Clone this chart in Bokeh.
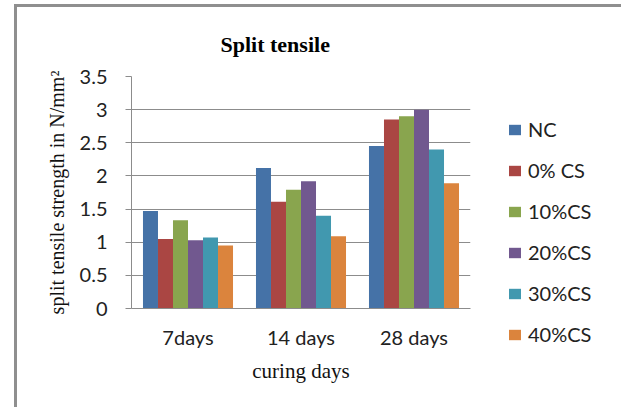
from bokeh.plotting import figure
from bokeh.models import FactorRange, Range1d, FixedTicker, Legend, LegendItem, ColumnDataSource
from bokeh.transform import dodge
from bokeh.embed import file_html
from bokeh.resources import INLINE

groups = ["7days", "14 days", "28 days"]
series = ["NC", "0% CS", "10%CS", "20%CS", "30%CS", "40%CS"]
NC = [1.47, 2.12, 2.45]
CS0 = [1.05, 1.61, 2.85]
CS10 = [1.33, 1.79, 2.90]
CS20 = [1.03, 1.92, 3.00]
CS30 = [1.07, 1.40, 2.40]
CS40 = [0.95, 1.09, 1.89]
y_ticks = [0, 0.5, 1, 1.5, 2, 2.5, 3, 3.5]
y_tick_labels = ["0", "0.5", "1", "1.5", "2", "2.5", "3", "3.5"]
colors = ["#4572A7", "#AA4643", "#89A54E", "#71588F", "#4198AF", "#DB843D"]

values = [NC, CS0, CS10, CS20, CS30, CS40]
data = {"groups": groups}
keys = ["s%d" % i for i in range(len(series))]
for k, v in zip(keys, values):
    data[k] = v
source = ColumnDataSource(data)

p = figure(x_range=FactorRange(*groups, range_padding=0), y_range=Range1d(0, 3.5),
           width=600, height=400, frame_width=339, frame_height=232,
           min_border_left=114, min_border_right=147, min_border_top=69, min_border_bottom=99,
           output_backend="svg", toolbar_location=None,
           styles={"margin-left": "14px", "margin-top": "4px",
                   "border-left": "3px solid #8f8f8f", "border-top": "3px solid #8f8f8f",
                   "border-right": "3px solid #8f8f8f"})

bw = 0.1328
items = []
for i, (k, c, name) in enumerate(zip(keys, colors, series)):
    off = (i - 2.5) * bw
    r = p.vbar(x=dodge("groups", off, range=p.x_range), top=k, width=bw, bottom=0,
               source=source, fill_color=c, line_color=None)
    items.append(LegendItem(label=name, renderers=[r]))

sans = "Lato"
serif = "Liberation Serif"
grid_c = "#8c8c8c"

p.outline_line_color = None
p.background_fill_color = "white"
p.border_fill_color = "white"
p.xgrid.grid_line_color = None
p.ygrid.grid_line_color = grid_c
p.ygrid.grid_line_width = 1

p.title.text = "Split tensile"
p.title.align = "left"
p.title.offset = 89
p.title.standoff = 40
p.title.text_font = serif
p.title.text_font_style = "bold"
p.title.text_font_size = "22px"
p.title.text_color = "#000000"

p.yaxis.ticker = FixedTicker(ticks=y_ticks)
p.yaxis.major_label_overrides = {t: l for t, l in zip(y_ticks, y_tick_labels)}
p.yaxis.minor_tick_line_color = None
p.yaxis.major_tick_in = 0
p.yaxis.major_tick_out = 6
p.yaxis.major_tick_line_color = grid_c
p.yaxis.axis_line_color = grid_c
p.yaxis.major_label_standoff = 18
p.yaxis.major_label_text_font = sans
p.yaxis.major_label_text_font_size = "20px"
p.yaxis.major_label_text_color = "#222222"
p.yaxis.axis_label = "split tensile strength in N/mm\u00b2"
p.yaxis.axis_label_text_font = serif
p.yaxis.axis_label_text_font_style = "normal"
p.yaxis.axis_label_text_font_size = "20px"
p.yaxis.axis_label_text_color = "#111111"
p.yaxis.axis_label_standoff = 9

p.xaxis.major_tick_line_color = None
p.xaxis.minor_tick_line_color = None
p.xaxis.axis_line_color = grid_c
p.xaxis.major_label_standoff = 10
p.xaxis.major_label_text_font = sans
p.xaxis.major_label_text_font_size = "20px"
p.xaxis.major_label_text_color = "#222222"
p.xaxis.axis_label = "curing days"
p.xaxis.axis_label_text_font = serif
p.xaxis.axis_label_text_font_style = "normal"
p.xaxis.axis_label_text_font_size = "21px"
p.xaxis.axis_label_text_color = "#111111"
p.xaxis.axis_label_standoff = 7

legend = Legend(items=items, location=(37, -38), orientation="vertical",
                glyph_width=15, glyph_height=13, label_height=20, spacing=17,
                label_standoff=6, padding=0, margin=0,
                label_text_font=sans, label_text_font_size="20px", label_text_color="#222222",
                border_line_color=None, background_fill_alpha=0)
p.add_layout(legend, "right")

open("out.html", "w").write(file_html(p, INLINE))
